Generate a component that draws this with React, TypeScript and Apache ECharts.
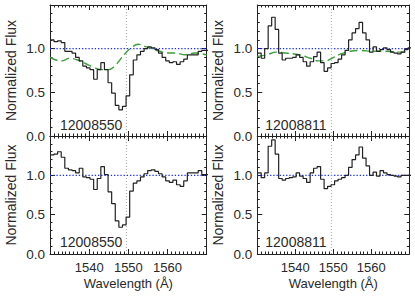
import React, { useEffect, useRef } from "react";
import * as echarts from "echarts";

// Wavelength grid of the binned spectra (Å)
const BIN_START = 1530.1;
const BIN_WIDTH = 0.92;
const LINE_CENTER = 1549.5;
const CONTINUUM = 1.0;

const X_MIN = 1530;
const X_MAX = 1570;
const Y_MIN = 0;
const Y_MAX = 1.5;
const X_TICKS = [1540, 1550, 1560];

// Object 12008550: observed flux (top) and flux / model (bottom)
const flux12008550 = [
  1.1, 1.08, 1.09, 1.07, 0.97, 0.97, 0.95, 0.9, 0.86, 0.8, 0.78, 0.76, 0.65, 0.76, 0.84, 0.76,
  0.61, 0.49, 0.35, 0.3, 0.34, 0.46, 0.7, 0.87, 0.93, 0.97, 1.0, 1.02, 1.01, 0.99, 0.95, 0.9,
  0.86, 0.84, 0.85, 0.82, 0.85, 0.88, 0.93, 0.93, 0.93, 0.97, 0.98, 0.98,
];
const norm12008550 = [
  1.26, 1.27, 1.3, 1.23, 1.09, 1.07, 1.06, 1.03, 1.09, 0.98, 0.97, 0.95, 0.82, 0.96, 1.11, 1.01,
  0.79, 0.64, 0.42, 0.34, 0.37, 0.47, 0.8, 0.9, 0.93, 0.98, 1.02, 1.06, 1.07, 1.05, 1.02, 0.98,
  0.93, 0.91, 0.94, 0.88, 0.86, 0.93, 1.03, 1.03, 1.03, 1.06, 1.01, 1.01,
];
const modelWave12008550 = [
  1530, 1531.5, 1533, 1535, 1537, 1539, 1541, 1543, 1545, 1546.5, 1548, 1549.5, 1551, 1552.5,
  1554, 1556, 1558, 1560, 1562, 1564.5, 1567, 1570,
];
const modelFlux12008550 = [
  0.9, 0.87, 0.86, 0.89, 0.87, 0.83, 0.79, 0.76, 0.76, 0.8, 0.88, 0.96, 1.02, 1.05, 1.03, 1.0,
  0.97, 0.95, 0.95, 0.93, 0.95, 0.93,
];

// Object 12008811
const flux12008811 = [
  0.95, 0.89, 1.0, 1.26, 1.36, 1.22, 0.95, 0.87, 0.89, 0.89, 0.9, 0.93, 0.9, 0.85, 0.8, 0.85,
  0.91, 0.96, 0.84, 0.74, 0.78, 0.83, 0.84, 0.88, 0.93, 0.98, 1.1, 1.18, 1.23, 1.3, 1.18, 1.1,
  0.96, 1.02, 0.97, 0.99, 1.01, 0.99, 0.96, 0.95, 0.94, 0.96, 0.99, 1.01,
];
const norm12008811 = [
  1.03, 0.97, 1.03, 1.37, 1.45, 1.27, 0.96, 0.94, 0.96, 0.97, 0.98, 1.03, 0.99, 0.96, 0.91, 1.03,
  1.09, 1.11, 0.95, 0.83, 0.86, 0.88, 0.93, 0.95, 0.97, 1.0, 1.1, 1.2, 1.26, 1.36, 1.22, 1.12,
  1.0, 1.04, 0.99, 1.06, 1.03, 1.01, 1.0, 0.99, 0.98, 1.0, 1.0, 1.0,
];
const modelWave12008811 = [
  1530, 1532.5, 1535, 1537.5, 1541, 1544, 1546, 1548, 1549.6, 1552, 1554.5, 1557, 1560.5, 1564,
  1567.5, 1570,
];
const modelFlux12008811 = [
  0.91, 0.93, 0.96, 0.95, 0.93, 0.89, 0.86, 0.86, 0.89, 0.94, 0.97, 0.98, 0.97, 0.97, 0.96, 0.96,
];

const PANEL_LABELS = ["12008550", "12008811", "12008550", "12008811"];

const FONT = "'Liberation Sans', Arial, Helvetica, sans-serif";
const INK = "#222";
const TEXT = "#2a2a2a";

function stepPairs(values: number[]) {
  const pts: [number, number][] = values.map((v, i) => [BIN_START + i * BIN_WIDTH, v]);
  pts.push([BIN_START + values.length * BIN_WIDTH, values[values.length - 1]]);
  return pts;
}
function pairs(xs: number[], ys: number[]) {
  return xs.map((x, i) => [x, ys[i]] as [number, number]);
}

export default function App() {
  const ref = useRef<HTMLDivElement>(null);
  useEffect(() => {
    if (!ref.current) return;
    const chart = echarts.init(ref.current, undefined, { renderer: "svg" });

    const grids = [
      { left: 50, top: 5, width: 156.7, height: 131 },
      { left: 257.3, top: 5, width: 152, height: 131 },
      { left: 50, top: 136, width: 156.7, height: 118 },
      { left: 257.3, top: 136, width: 152, height: 118 },
    ];

    const tickStyle = { color: INK, width: 1 };
    const xAxes: any[] = [];
    const yAxes: any[] = [];
    grids.forEach((_, g) => {
      const bottomRow = g >= 2;
      ["bottom", "top"].forEach((pos) => {
        const main = pos === "bottom";
        xAxes.push({
          type: "value",
          gridIndex: g,
          position: pos,
          min: X_MIN,
          max: X_MAX,
          interval: 10,
          axisLine: { show: true, onZero: false, lineStyle: tickStyle },
          axisTick: { show: true, inside: true, length: 5, lineStyle: tickStyle },
          minorTick: { show: true, splitNumber: 10, length: 2.5, lineStyle: tickStyle },
          splitLine: { show: false },
          minorSplitLine: { show: false },
          axisLabel: {
            show: main && bottomRow,
            margin: 7,
            fontSize: 13,
            fontFamily: FONT,
            color: TEXT,
            formatter: (v: number) => (X_TICKS.includes(v) ? String(v) : ""),
          },
          name: main && bottomRow ? "Wavelength (Å)" : "",
          nameLocation: "middle",
          nameGap: 23,
          nameTextStyle: { fontSize: 13, fontFamily: FONT, color: TEXT },
        });
      });
      ["left", "right"].forEach((pos) => {
        const main = pos === "left";
        yAxes.push({
          type: "value",
          gridIndex: g,
          position: pos,
          min: Y_MIN,
          max: Y_MAX,
          interval: 0.5,
          axisLine: { show: true, onZero: false, lineStyle: tickStyle },
          axisTick: { show: true, inside: true, length: 5, lineStyle: tickStyle },
          minorTick: { show: true, splitNumber: 5, length: 2.5, lineStyle: tickStyle },
          splitLine: { show: false },
          minorSplitLine: { show: false },
          axisLabel: {
            show: main,
            showMaxLabel: false,
            margin: 5,
            fontSize: 13.5,
            fontFamily: FONT,
            color: TEXT,
            formatter: (v: number) => v.toFixed(1),
          },
          name: main ? "Normalized Flux" : "",
          nameLocation: "middle",
          nameGap: 32,
          nameTextStyle: { fontSize: 14, fontFamily: FONT, color: TEXT },
        });
      });
    });

    const dataSets = [flux12008550, flux12008811, norm12008550, norm12008811];
    const models: ([number[], number[]] | null)[] = [
      [modelWave12008550, modelFlux12008550],
      [modelWave12008811, modelFlux12008811],
      null,
      null,
    ];

    const series: any[] = [];
    dataSets.forEach((vals, g) => {
      const ax = { xAxisIndex: g * 2, yAxisIndex: g * 2 };
      // continuum level (blue dotted)
      series.push({
        type: "line",
        ...ax,
        data: [
          [X_MIN, CONTINUUM],
          [X_MAX, CONTINUUM],
        ],
        showSymbol: false,
        silent: true,
        z: 1,
        lineStyle: { color: "#1a2cff", width: 1.1, type: [1.3, 1.9] },
      });
      // line centre (grey dotted)
      series.push({
        type: "line",
        ...ax,
        data: [
          [LINE_CENTER, Y_MIN],
          [LINE_CENTER, Y_MAX],
        ],
        showSymbol: false,
        silent: true,
        z: 1,
        lineStyle: { color: "#a8a8a8", width: 1, type: [1, 2] },
      });
      const m = models[g];
      if (m) {
        series.push({
          type: "line",
          ...ax,
          data: pairs(m[0], m[1]),
          smooth: 0.4,
          showSymbol: false,
          z: 2,
          lineStyle: { color: "#3aa03a", width: 1.4, type: [8, 4] },
        });
      }
      series.push({
        type: "line",
        ...ax,
        data: stepPairs(vals),
        step: "end",
        showSymbol: false,
        z: 3,
        lineStyle: { color: INK, width: 1.2 },
      });
    });

    const graphic = grids.map((gr, g) => ({
      type: "text",
      x: gr.left + (g % 2 === 0 ? 10 : 8),
      y: gr.top + gr.height - (g >= 2 ? 12 : 11),
      style: {
        text: PANEL_LABELS[g],
        font: `14px ${FONT}`,
        fill: TEXT,
        textVerticalAlign: "middle",
        verticalAlign: "middle",
      },
    }));

    chart.setOption({
      animation: false,
      backgroundColor: "#fff",
      grid: grids.map((g) => ({ ...g, containLabel: false, outerBoundsMode: "none" })),
      xAxis: xAxes,
      yAxis: yAxes,
      series,
      graphic,
    });
    return () => chart.dispose();
  }, []);

  return (
    <div
      ref={ref}
      style={{ position: "fixed", left: 0, top: 0, width: 415, height: 297, background: "#fff" }}
    />
  );
}
